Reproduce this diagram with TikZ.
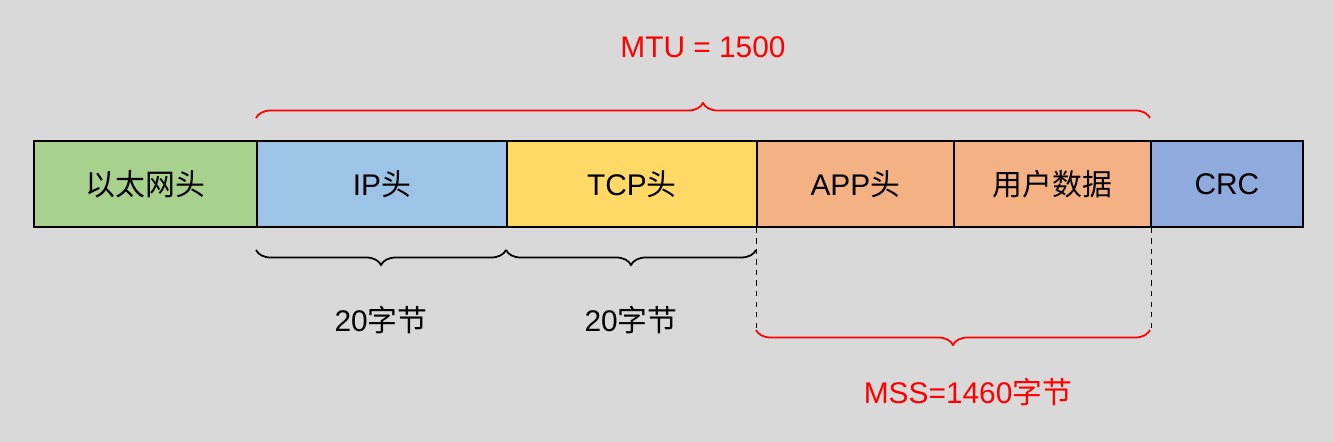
\documentclass[tikz,border=0pt]{standalone}
\usepackage{fontspec}
\setmainfont{Liberation Sans}
\newfontfamily\cjk{Noto Sans CJK SC}
\usetikzlibrary{decorations.pathreplacing}
\definecolor{ethC}{HTML}{A9D18E}
\definecolor{ipC}{HTML}{9DC3E6}
\definecolor{tcpC}{HTML}{FFD966}
\definecolor{appC}{HTML}{F4B183}
\definecolor{crcC}{HTML}{8FAADC}
\definecolor{bgC}{HTML}{D9D9D9}
\begin{document}
\begin{tikzpicture}
[
	x = 0.02cm, y = -0.02cm,
	field/.style = {draw = black, line width = 1pt, minimum height = 1.72cm, inner sep = 0cm, font = \fontsize{17}{19}\selectfont, anchor = north west},
	brc/.style = {decorate, decoration = {brace, amplitude = 0.3cm, aspect = 0.5}, line width = 1pt},
	lbl/.style = {font = \fontsize{17}{19}\selectfont},
]
	\fill [bgC] (0,0) rectangle (1334,442);

	% fields
	\node (eth) [field, fill = ethC, minimum width = 4.46cm] at (33,140) {{\cjk 以太网头}};
	\node (ip)  [field, fill = ipC,  minimum width = 5cm] at (256,140) {IP{\cjk 头}};
	\node (tcp) [field, fill = tcpC, minimum width = 5cm] at (506,140) {TCP{\cjk 头}};
	\node (app) [field, fill = appC, minimum width = 3.94cm] at (756,140) {APP{\cjk 头}};
	\node (usr) [field, fill = appC, minimum width = 3.94cm] at (953,140) {{\cjk 用户数据}};
	\node (crc) [field, fill = crcC, minimum width = 3.04cm] at (1150,140) {CRC};

	% MTU
	\draw [brc, red] (256,118) -- (1150,118);
	\node (mtu) [lbl, red] at (703,47) {MTU = 1500};

	% headers
	\draw [brc, decoration = {mirror}] (256,250) -- (506,250);
	\draw [brc, decoration = {mirror}] (506,250) -- (756,250);
	\node (ipL)  [lbl] at (381,320) {20{\cjk 字节}};
	\node (tcpL) [lbl] at (631,320) {20{\cjk 字节}};

	% MSS
	\draw [dashed, thin] (app.south west) -- ++(0,104);
	\draw [dashed, thin] (usr.south east) -- ++(0,104);
	\draw [brc, red, decoration = {mirror}] (756,330) -- (1150,330);
	\node (mss) [lbl, red] at (968,392) {MSS=1460{\cjk 字节}};
\end{tikzpicture}
\end{document}
